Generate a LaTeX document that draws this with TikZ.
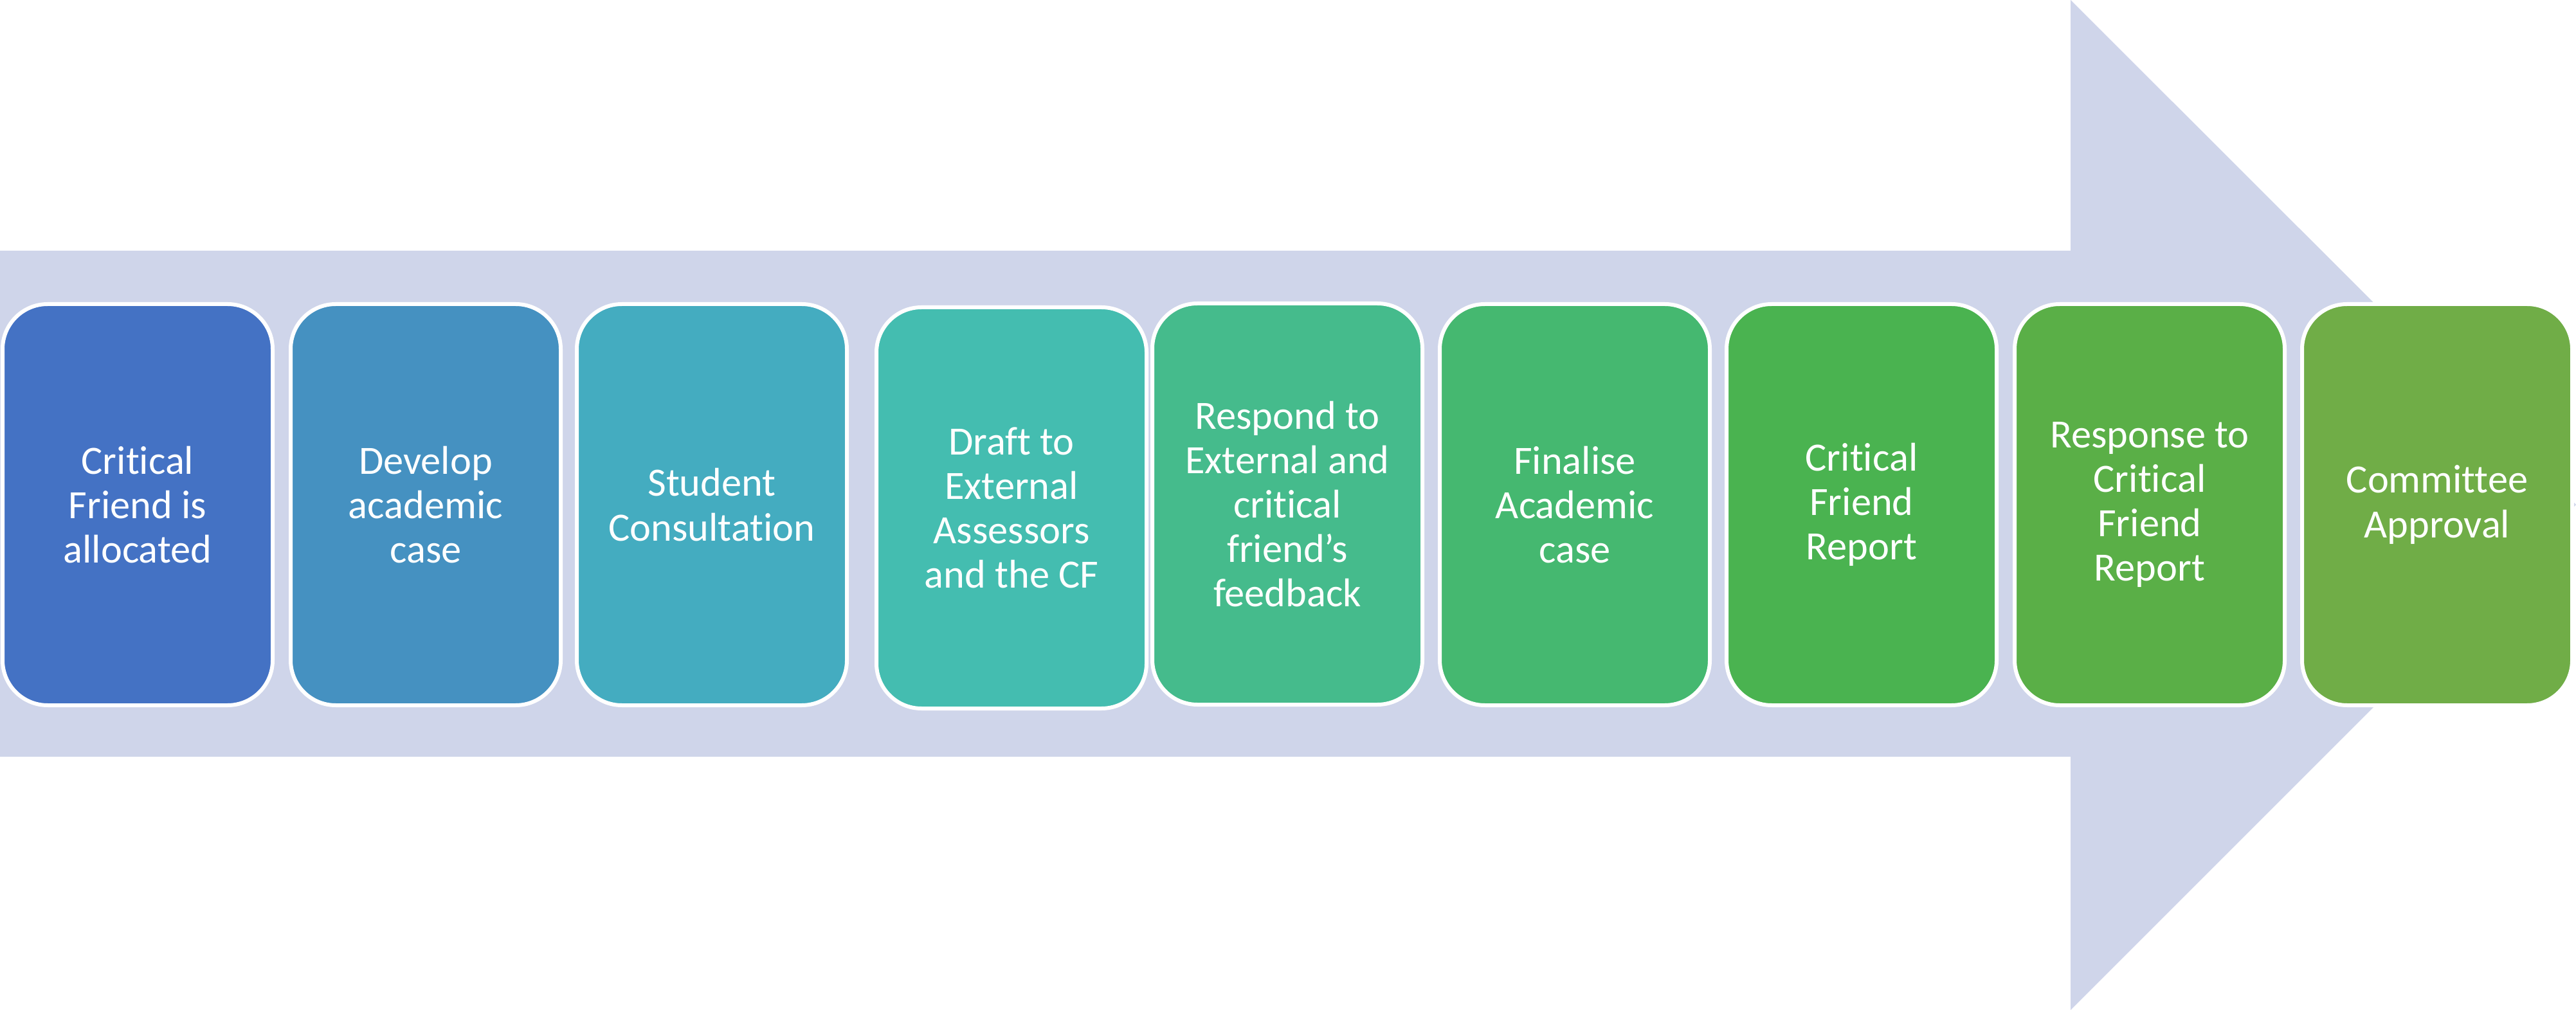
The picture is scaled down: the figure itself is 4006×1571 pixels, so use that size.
\documentclass[tikz,border=0pt]{standalone}
\usepackage{fontspec}
\setmainfont{Carlito}[Ligatures=NoCommon]

\definecolor{arrowfill}{RGB}{207,213,234}
\definecolor{stepa}{RGB}{68,114,196}
\definecolor{stepb}{RGB}{69,145,193}
\definecolor{stepc}{RGB}{68,172,192}
\definecolor{stepd}{RGB}{68,189,176}
\definecolor{stepe}{RGB}{69,187,140}
\definecolor{stepf}{RGB}{69,184,112}
\definecolor{stepg}{RGB}{74,179,80}
\definecolor{steph}{RGB}{90,175,71}
\definecolor{stepi}{RGB}{112,173,71}

\tikzset{every picture/.style={line width=0.75pt}}
\tikzset{
  stagebox/.style={draw=white, line width=1.5pt, rounded corners=17.5pt,
    minimum width=105pt, minimum height=156pt, align=center, text=white,
    font=\fontsize{15.6}{17.3}\selectfont, inner sep=2pt}
}

\begin{document}
\begin{tikzpicture}[x=0.25pt,y=0.25pt,yscale=-1,xscale=1]
	\useasboundingbox (0,0) rectangle (4006,1571);

	%big arrow behind the stages
	\fill [arrowfill] (0,390) -- (3220,390) -- (3220,0) -- (4006,785) -- (3220,1571) -- (3220,1177) -- (0,1177) -- cycle ;

	%stages
	\node [stagebox, fill=stepa] (allocate) at (214,785) {Critical\\Friend is\\allocated};
	\node [stagebox, fill=stepb] (develop) at (662,785) {Develop\\academic\\case};
	\node [stagebox, fill=stepc] (consult) at (1107,785) {Student\\Consultation};
	\node [stagebox, fill=stepd] (draft) at (1573,790) {Draft to\\External\\Assessors\\and the CF};
	\node [stagebox, fill=stepe] (respond) at (2002,784) {Respond to\\External and\\critical\\friend’s\\feedback};
	\node [stagebox, fill=stepf] (finalise) at (2449,785) {Finalise\\Academic\\case};
	\node [stagebox, fill=stepg] (cfreport) at (2895,785) {Critical\\Friend\\Report};
	\node [stagebox, fill=steph] (response) at (3343,785) {Response to\\Critical\\Friend\\Report};
	\node [stagebox, fill=stepi] (approval) at (3790,785) {Committee\\Approval};

\end{tikzpicture}
\end{document}
